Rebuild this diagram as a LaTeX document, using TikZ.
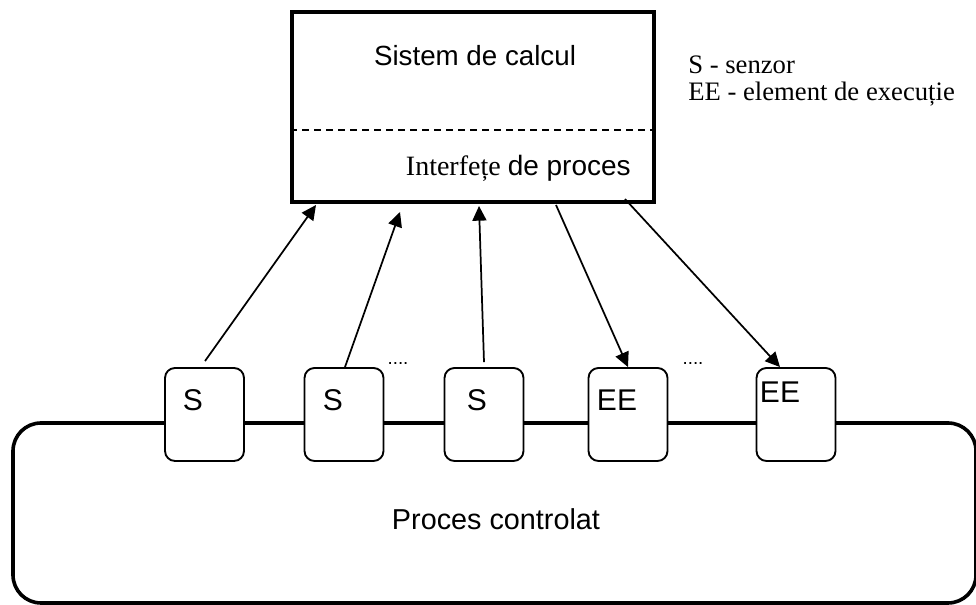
\documentclass[tikz,border=0pt]{standalone}
\usepackage{fontspec}
\setmainfont{Liberation Serif}
\newfontfamily\arial{Liberation Sans}
\usetikzlibrary{arrows.meta,calc}

\tikzset{
  mainbox/.style={draw, line width=3pt, fill=white, inner sep=0pt,
    minimum width=271.5pt, minimum height=142.5pt},
  procbox/.style={draw, line width=2.7pt, rounded corners=21pt, inner sep=0pt,
    minimum width=722.25pt, minimum height=135pt},
  unitbox/.style={draw, line width=1.4pt, fill=white, rounded corners=7.5pt,
    inner sep=0pt, minimum width=59.25pt, minimum height=69.75pt},
  unitlabel/.style={font=\arial\fontsize{22.5}{26}\selectfont, inner sep=0pt, anchor=base},
  sig/.style={line width=1.3pt, -{Triangle[length=11pt,width=10.5pt]}},
  legend/.style={font=\fontsize{20}{22}\selectfont, inner sep=0pt, anchor=base west},
  dots/.style={font=\arial\fontsize{14}{16}\selectfont, inner sep=0pt, anchor=base}
}

\begin{document}
\begin{tikzpicture}[x=0.75pt,y=-0.75pt]
\useasboundingbox (0,0) rectangle (976,605);

% controlled process and its connecting line
\node[procbox] (proc) at (494.5,513) {};
\node[font=\arial\fontsize{21.6}{24}\selectfont, inner sep=0pt, anchor=base] (proclbl) at (496,529.5) {Proces controlat};

% computing system with its process interfaces
\node[mainbox] (sys) at (473,107) {};
\draw[line width=1.3pt, dash pattern=on 5.25pt off 3.75pt]
  ($(sys.west)+(0,23)$) coordinate (dl) -- ($(sys.east)+(0,23)$) coordinate (dr);
\node[font=\arial\fontsize{20.8}{24}\selectfont, inner sep=0pt, anchor=base] (syslbl) at (475,66) {Sistem de calcul};
\node[font=\fontsize{21}{24}\selectfont, inner sep=0pt, anchor=base east] (iflbl) at (631,176) {Interfețe {\arial de proces}};

% legend
\node[legend] (leg1) at (688,74) {S - senzor};
\node[legend] (leg2) at (688,100.5) {EE - element de execuție};

% sensors and actuators
\node[unitbox] (s1) at (204.5,414.5) {};
\node[unitbox] (s2) at (344,414.5) {};
\node[unitbox] (s3) at (484,414.5) {};
\node[unitbox] (e1) at (628,414.5) {};
\node[unitbox] (e2) at (796,414.5) {};

\node[unitlabel] (s1l) at (193,410.5) {S};
\node[unitlabel] (s2l) at (333,410.5) {S};
\node[unitlabel] (s3l) at (477,410.5) {S};
\node[unitlabel] (e1l) at (617,410.5) {EE};
\node[unitlabel] (e2l) at (780,403) {EE};

\node[dots] (d1) at (398,365) {....};
\node[dots] (d2) at (693,365) {....};

% signal paths
\draw[sig] ($(s1.north)+(0.5,-6)$) -- ($(sys.south west)+(26,1)$);
\draw[sig] ($(s2.north)+(1,0)$) -- ($(sys.south west)+(110,8)$);
\draw[sig] ($(s3.north)+(0,-5)$) -- ($(sys.south west)+(189,2)$);
\draw[sig] ($(sys.south west)+(266,1)$) -- (e1.north);
\draw[sig] ($(sys.south west)+(335,-5)$) -- ($(e2.north)+(-16,0)$);
\end{tikzpicture}
\end{document}
